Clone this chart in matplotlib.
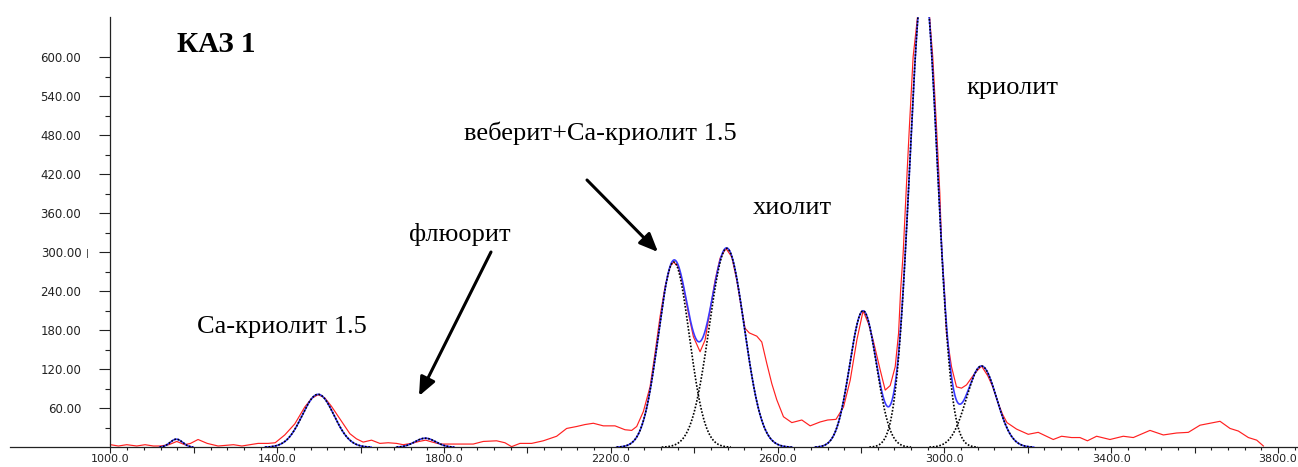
"""Spectrum of sample KAZ 1 with fitted gaussian peaks (cryolite, chiolite, weberite...)"""

import numpy as np
import matplotlib
matplotlib.use("Agg")
import matplotlib.pyplot as plt
from matplotlib.ticker import FixedLocator, FuncFormatter

W, H = 1298, 467

red_x = [1000, 1019, 1039, 1063, 1083, 1103, 1119, 1140, 1159, 1178, 1192, 1210, 1232, 1258,
         1278, 1295, 1315, 1334, 1354, 1378, 1395, 1418, 1442, 1466, 1482, 1498, 1514, 1530,
         1554, 1574, 1590, 1606, 1626, 1646, 1666, 1686, 1702, 1722, 1740, 1756, 1772, 1790,
         1822, 1846, 1870, 1894, 1926, 1946, 1962, 1982, 2010, 2038, 2070, 2094, 2118, 2138,
         2158, 2182, 2210, 2234, 2250, 2262, 2278, 2294, 2306, 2318, 2330, 2342, 2350, 2362,
         2374, 2386, 2398, 2414, 2426, 2438, 2450, 2462, 2476, 2490, 2502, 2514, 2522, 2532,
         2550, 2562, 2574, 2586, 2598, 2614, 2634, 2658, 2678, 2702, 2720, 2740, 2758, 2774,
         2790, 2805, 2818, 2829, 2846, 2858, 2870, 2882, 2890, 2895, 2901, 2908, 2916, 2925,
         2936, 2950, 2964, 2972, 2981, 2989, 2994, 3000, 3005, 3017, 3029, 3041, 3053, 3073,
         3089, 3104, 3116, 3130, 3140, 3150, 3173, 3201, 3225, 3261, 3281, 3305, 3325, 3343,
         3365, 3397, 3429, 3453, 3493, 3525, 3557, 3585, 3613, 3637, 3661, 3685, 3705, 3729,
         3749, 3765]
red_y = [4, 2, 4, 2, 4, 2, 2, 4, 9, 4, 6, 12, 6, 2,
         3, 4, 2, 4, 6, 6, 7, 19, 36, 62, 75, 81, 76, 63,
         40, 21, 13, 8, 11, 6, 7, 6, 4, 6, 9, 11, 8, 5,
         5, 5, 5, 9, 10, 7, 1, 6, 6, 10, 17, 29, 32, 35,
         37, 33, 33, 27, 26, 32, 55, 93, 145, 201, 247, 278, 285, 278,
         247, 206, 170, 147, 165, 211, 257, 291, 306, 293, 257, 211, 183, 176,
         171, 162, 129, 98, 73, 47, 38, 42, 33, 39, 42, 43, 62, 103,
         165, 210, 190, 165, 119, 88, 95, 124, 175, 242, 298, 391, 493, 601,
         665, 720, 665, 601, 493, 391, 298, 242, 175, 124, 93, 91, 96, 114,
         125, 110, 93, 66, 50, 38, 28, 20, 23, 12, 17, 15, 15, 10,
         17, 12, 17, 15, 26, 19, 22, 23, 34, 37, 40, 29, 25, 15,
         11, 2]

# fitted gaussian components: position, height, sigma
peak_pos = [1158, 1498, 1755, 2351, 2478, 2805, 2950, 3089]
peak_height = [12.5, 81.5, 14, 285, 306, 210, 720, 125]
peak_sigma = [15, 38, 25, 37, 42, 32, 33, 36]

# axis ticks
x_major = list(range(1000, 3801, 200))
x_minor = list(range(1000, 3841, 40))
y_major = list(range(60, 601, 60))
y_minor = list(range(30, 571, 30))


def to_fig(px, py):
    # pixel position in the picture -> figure fraction
    return px / W, 1 - py / H


fig = plt.figure(figsize=(W / 100, H / 100), dpi=100)
ax = fig.add_axes([10 / W, (H - 447.3) / H, (W - 10) / W, (447.3 - 17) / H])
ax.set_xlim(759, 3848)
ax.set_ylim(0, 662)

grid = np.linspace(1000, 3800, 2801)
components = []
for pos, h, s in zip(peak_pos, peak_height, peak_sigma):
    components.append(h * np.exp(-(grid - pos) ** 2 / (2 * s ** 2)))
total = np.sum(components, axis=0)

ax.plot(red_x, red_y, color="#ff2020", lw=0.85, zorder=2)
ax.plot(grid, np.where(total > 0.3, total, np.nan), color="#3a3aff", lw=1.2, zorder=3)
for comp in components:
    ax.plot(grid, np.where(comp > 0.3, comp, np.nan), color="black", lw=1.2,
            linestyle=(0, (1, 1)), zorder=4)

# axes look: only left and bottom lines, y axis at x = 1000
for side in ["top", "right"]:
    ax.spines[side].set_visible(False)
ax.spines["left"].set_position(("data", 1000))
ax.spines["left"].set_bounds(0, 662)
for side in ["left", "bottom"]:
    ax.spines[side].set_linewidth(0.9)
    ax.spines[side].set_color("#222222")

ax.xaxis.set_major_locator(FixedLocator(x_major))
ax.xaxis.set_minor_locator(FixedLocator(x_minor))
ax.xaxis.set_major_formatter(FuncFormatter(lambda v, p: f"{v:.1f}" if (v - 1000) % 400 == 0 else ""))
ax.yaxis.set_major_locator(FixedLocator(y_major))
ax.yaxis.set_minor_locator(FixedLocator(y_minor))
ax.yaxis.set_major_formatter(FuncFormatter(lambda v, p: f"{v:.2f}"))

ax.tick_params(axis="x", which="major", direction="out", length=4, width=0.8, pad=0.5,
               labelsize=8, colors="#222222")
ax.tick_params(axis="x", which="minor", direction="out", length=2, width=0.8, colors="#222222")
ax.tick_params(axis="y", which="major", direction="out", length=8, width=0.8, pad=13,
               labelsize=8.5, colors="#222222")
ax.tick_params(axis="y", which="minor", direction="out", length=3.6, width=0.8, colors="#222222")

for tick in ax.xaxis.get_major_ticks():
    if tick.get_loc() == 1000:
        tick.label1.set_horizontalalignment("right")

# labels of the peaks
serif = "Liberation Serif"
fig.text(*to_fig(216, 44), "КАЗ 1", fontsize=21, fontweight="bold", family=serif,
         ha="center", va="center")
fig.text(*to_fig(282, 327), "Ca-криолит 1.5", fontsize=19, family=serif, ha="center", va="center")
fig.text(*to_fig(460, 235), "флюорит", fontsize=19, family=serif, ha="center", va="center")
fig.text(*to_fig(600, 133), "веберит+Ca-криолит 1.5", fontsize=19, family=serif,
         ha="center", va="center")
fig.text(*to_fig(792, 208), "хиолит", fontsize=19, family=serif, ha="center", va="center")
fig.text(*to_fig(1012, 88), "криолит", fontsize=19, family=serif, ha="center", va="center")
fig.text(*to_fig(87, 254), "|", fontsize=6, color="#222222", ha="center", va="center")

# arrows
arrow_style = dict(arrowstyle="-|>,head_length=0.7,head_width=0.3", lw=2.2, color="black",
                   mutation_scale=16, shrinkA=0, shrinkB=0)
ax.annotate("", xy=(419, H - 396), xycoords="figure pixels",
            xytext=(491, H - 252), textcoords="figure pixels", arrowprops=arrow_style)
ax.annotate("", xy=(658, H - 252), xycoords="figure pixels",
            xytext=(587, H - 180), textcoords="figure pixels", arrowprops=arrow_style)

fig.savefig("out.png", dpi=100)
